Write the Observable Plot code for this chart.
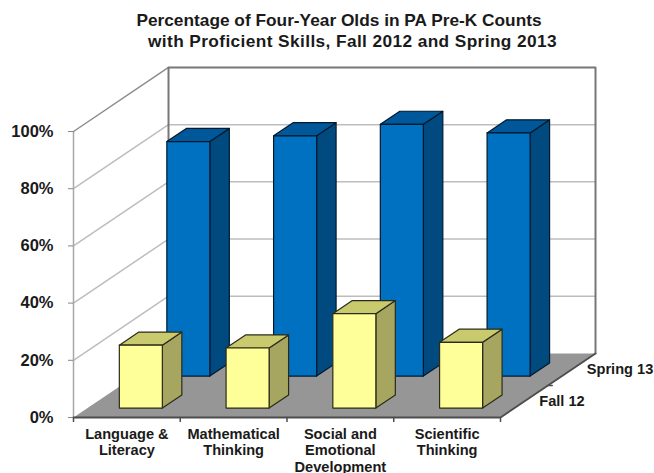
<!DOCTYPE html>
<html><head><meta charset="utf-8">
<script src="https://cdn.jsdelivr.net/npm/d3@7"></script>
<script src="https://cdn.jsdelivr.net/npm/@observablehq/plot@0.6"></script>
<style>
html,body{margin:0;padding:0;background:#fff;overflow:hidden}
#title{height:60px;box-sizing:border-box;padding:10px 0 0 0;width:654px;text-align:center;font:bold 17.3px/21px "Liberation Sans",Arial,sans-serif;color:#1a1a1a;white-space:nowrap}
#title span{display:block}
svg{display:block}
</style></head><body>
<div id="title"><span style="padding-left:24px">Percentage of Four-Year Olds in PA Pre-K Counts</span><span style="padding-left:51px;letter-spacing:.39px">with Proficient Skills, Fall 2012 and Spring 2013</span></div>
<div id="chart"></div>
<script>
const categories = ["Language &\nLiteracy", "Mathematical\nThinking", "Social and\nEmotional\nDevelopment", "Scientific\nThinking"];
const fall12 = [22, 21, 33, 23];
const spring13 = [82, 84, 88, 85];
const seriesLabels = ["Fall 12", "Spring 13"];
const yTicks = [0, 20, 40, 60, 80, 100];

// Oblique projection: one unit of depth shifts along x (categories) and y (percent)
const skewX = 0.89, skewY = 22.4;
const P = (cat, val, depth) => ({x: cat + depth * skewX, y: val + depth * skewY});
const barW = 0.403, barD = 0.205, barInset = 0.147;

function poly(id, pts) { return [...pts, pts[0]].map(p => ({id, ...P(...p)})); }

function bars(values, s) {
  const front = [], side = [], top = [];
  values.forEach((v, i) => {
    const x0 = i + (1 - barW) / 2, x1 = x0 + barW;
    const d0 = s * 0.5 + barInset, d1 = d0 + barD;
    front.push(...poly("f" + i, [[x0, 0, d0], [x1, 0, d0], [x1, v, d0], [x0, v, d0]]));
    side.push(...poly("s" + i, [[x1, 0, d0], [x1, 0, d1], [x1, v, d1], [x1, v, d0]]));
    top.push(...poly("t" + i, [[x0, v, d0], [x1, v, d0], [x1, v, d1], [x0, v, d1]]));
  });
  return {front, side, top};
}
function barMarks(b, cFront, cSide, cTop, stroke) {
  const o = {x: "x", y: "y", z: "id", stroke, strokeWidth: 1.2, strokeLinejoin: "round"};
  return [
    Plot.line(b.side, {...o, fill: cSide}),
    Plot.line(b.top, {...o, fill: cTop}),
    Plot.line(b.front, {...o, fill: cFront})
  ];
}

const floor = poly("floor", [[0, 0, 0], [4, 0, 0], [4, 0, 1], [0, 0, 1]]);
const grid = yTicks.filter(t => t > 0 && t < 100).flatMap(t =>
  [[0, t, 0], [0, t, 1], [4, t, 1]].map(p => ({id: t, ...P(...p)})));
const topSide = [[0, 100, 0], [0, 100, 1]].map(p => P(...p));
const wallEdge = [[0, 0, 1], [0, 100, 1], [4, 100, 1], [4, 0, 1]].map(p => P(...p));
const leftEdge = [[0, 0, 0], [0, 100, 0]].map(p => P(...p));
const floorFront = [[0, 0, 0], [4, 0, 0], [4, 0, 1]].map(p => P(...p));
const depthTicks = [0.5].flatMap((d, k) => [[4, 0, d], [4.04, 0, d]].map(p => ({id: k, ...P(...p)})));
const depthLabels = seriesLabels.map((t, i) => ({t, ...P(4, 0, 0.25 + i * 0.5)}));
const catLabels = categories.map((t, i) => ({t, x: i + 0.5}));

const plot = Plot.plot({
  width: 654, height: 413,
  marginLeft: 73, marginRight: 154, marginTop: 71, marginBottom: 56,
  x: {domain: [0, 4], axis: null},
  y: {domain: [0, 100], axis: null},
  style: {background: "transparent", overflow: "visible"},
  marks: [
    Plot.line(grid, {x: "x", y: "y", z: "id", stroke: "#bdbdbd", strokeWidth: 1.5}),
    Plot.line(leftEdge, {x: "x", y: "y", stroke: "#a8a8a8", strokeWidth: 1.5}),
    Plot.line(topSide, {x: "x", y: "y", stroke: "#8c8c8c", strokeWidth: 1.5}),
    Plot.line(wallEdge, {x: "x", y: "y", stroke: "#777", strokeWidth: 2}),
    Plot.line(floor, {x: "x", y: "y", z: "id", fill: "#969696", stroke: "none"}),
    Plot.line(floorFront, {x: "x", y: "y", stroke: "#4d4d4d", strokeWidth: 1.8}),
    Plot.line(depthTicks, {x: "x", y: "y", z: "id", stroke: "#4d4d4d", strokeWidth: 1.5}),
    ...barMarks(bars(spring13, 1), "#0070c0", "#004a80", "#00589a", "#02192e"),
    ...barMarks(bars(fall12, 0), "#ffff99", "#a6a660", "#c9c96e", "#2b2b1a"),
    Plot.axisY({ticks: yTicks, tickSize: 5, tickPadding: 15, tickFormat: d => d + "%", label: null,
      fontSize: 16.5, fontWeight: "bold", fontFamily: "Liberation Sans", fill: "#1a1a1a", stroke: "#888"}),
    Plot.axisX({ticks: [0, 1, 2, 3, 4], tickSize: 5, tickFormat: () => "", label: null, stroke: "#4d4d4d", strokeWidth: 1.5}),
    Plot.text(catLabels, {x: "x", y: () => 0, text: "t", dy: 10, lineAnchor: "top", lineHeight: 1.12,
      fontSize: 14.6, fontWeight: "bold", fontFamily: "Liberation Sans", fill: "#1a1a1a"}),
    Plot.text(depthLabels, {x: "x", y: "y", text: "t", textAnchor: "start", dx: 15,
      fontSize: 14.6, fontWeight: "bold", fontFamily: "Liberation Sans", fill: "#1a1a1a"})
  ]
});
document.getElementById("chart").append(plot);
</script>
</body></html>
